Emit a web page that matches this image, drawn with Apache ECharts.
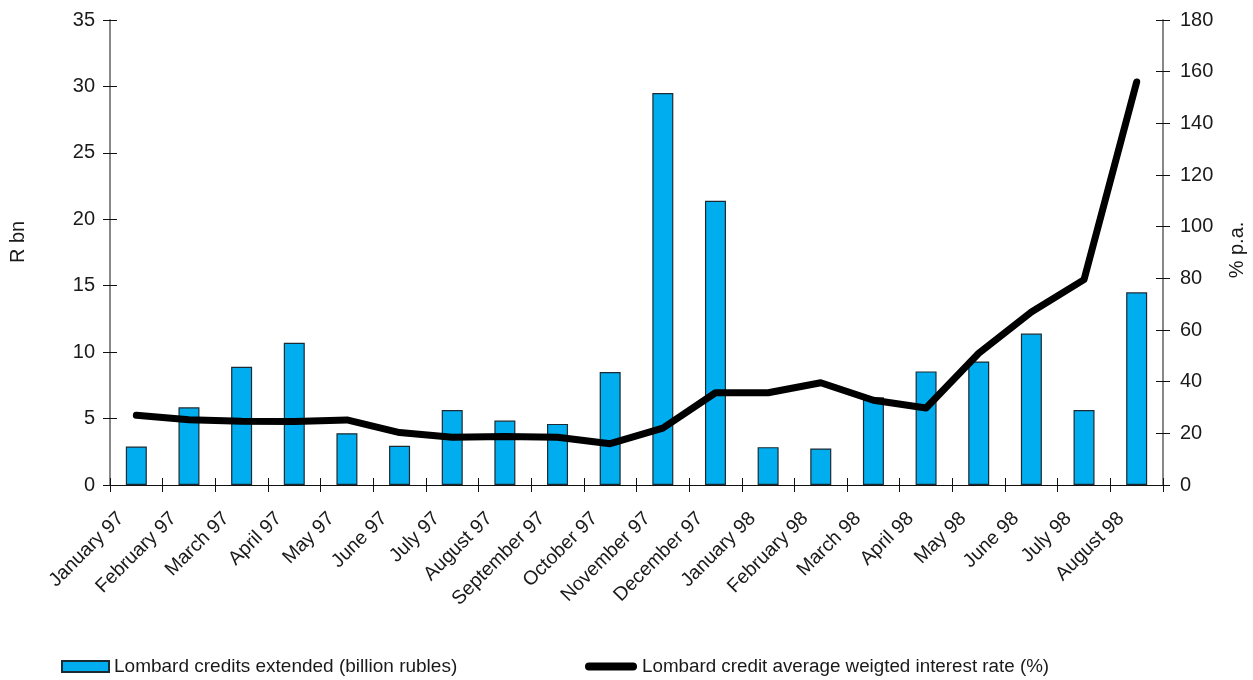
<!DOCTYPE html>
<html>
<head>
<meta charset="utf-8">
<script src="https://cdn.jsdelivr.net/npm/echarts@6/dist/echarts.min.js"></script>
<style>
  html, body { margin: 0; padding: 0; background: #ffffff; }
  #chart { width: 1253px; height: 680px; }
</style>
</head>
<body>
<div id="chart"></div>
<script>
// Monthly categories
const months = ['January 97', 'February 97', 'March 97', 'April 97', 'May 97', 'June 97',
  'July 97', 'August 97', 'September 97', 'October 97', 'November 97', 'December 97',
  'January 98', 'February 98', 'March 98', 'April 98', 'May 98', 'June 98', 'July 98', 'August 98'];

// Lombard credits extended, billion rubles (left axis)
const credits = [2.9, 5.85, 8.9, 10.7, 3.9, 2.95, 5.65, 4.85, 4.6, 8.5,
  29.5, 21.4, 2.85, 2.75, 6.6, 8.55, 9.3, 11.4, 5.65, 14.5];

// Lombard credit average weighted interest rate, % p.a. (right axis)
const rates = [27, 25.3, 24.7, 24.6, 25.2, 20.3, 18.5, 18.8, 18.5, 16,
  22, 35.7, 35.7, 39.6, 32.8, 29.8, 51, 67, 79.5, 156];

// Axis tick settings
const leftAxis = { min: 0, max: 35, interval: 5 };
const rightAxis = { min: 0, max: 180, interval: 20 };

const barName = 'Lombard credits extended (billion rubles)';
const lineName = 'Lombard credit average weigted interest rate (%)';

const FONT = '"Liberation Sans", Arial, Helvetica, sans-serif';
const TXT = '#1a1a1a';

const chart = echarts.init(document.getElementById('chart'), null, { renderer: 'canvas' });

// Ticks cross the axis lines: each axis is paired with a label-less twin whose ticks point inward.
const yBase = (cfg, pos, showLabels, inside, lineColor) => ({
  type: 'value', position: pos, min: cfg.min, max: cfg.max, interval: cfg.interval,
  splitLine: { show: false },
  axisLine: { show: true, lineStyle: { color: lineColor, width: 1.5 } },
  axisTick: { show: true, inside: inside, length: 7, lineStyle: { color: '#111', width: 1 } },
  axisLabel: {
    show: showLabels, margin: pos === 'left' ? 15 : 17,
    color: TXT, fontFamily: FONT, fontSize: 20
  }
});

const xBase = (showLabels, inside) => ({
  type: 'category', data: months, position: 'bottom',
  axisLine: { show: true, lineStyle: { color: '#111', width: 1.2 } },
  axisTick: { show: true, inside: inside, length: 7, lineStyle: { color: '#111', width: 1 } },
  axisLabel: {
    show: showLabels, rotate: 45, margin: 15, interval: 0,
    color: TXT, fontFamily: FONT, fontSize: 19.5, padding: [0, 22, 0, 0]
  }
});

chart.setOption({
  backgroundColor: '#ffffff',
  animation: false,
  grid: { left: 110, right: 90, top: 20, height: 465 },
  xAxis: [xBase(true, false), xBase(false, true)],
  yAxis: [
    yBase(leftAxis, 'left', true, false, '#808080'),
    yBase(rightAxis, 'right', true, false, '#808080'),
    yBase(leftAxis, 'left', false, true, '#808080'),
    yBase(rightAxis, 'right', false, true, '#808080')
  ],
  legend: [
    {
      data: [{ name: barName, icon: 'rect' }],
      left: 61, top: 657, padding: 0, itemWidth: 47, itemHeight: 11,
      textStyle: { color: TXT, fontFamily: FONT, fontSize: 19 }
    },
    {
      data: [{ name: lineName, icon: 'path://M4,0 H48 A4,4 0 0 1 48,8 H4 A4,4 0 0 1 4,0 Z' }],
      left: 585, top: 657, padding: 0, itemWidth: 52, itemHeight: 8,
      itemStyle: { color: '#000' },
      textStyle: { color: TXT, fontFamily: FONT, fontSize: 18.8 }
    }
  ],
  graphic: [
    {
      type: 'text', x: 18, y: 242, rotation: Math.PI / 2,
      style: { text: 'R bn', fill: TXT, font: '20px ' + FONT, textAlign: 'center', textVerticalAlign: 'middle' }
    },
    {
      type: 'text', x: 1237, y: 250, rotation: Math.PI / 2,
      style: { text: '% p.a.', fill: TXT, font: '20px ' + FONT, textAlign: 'center', textVerticalAlign: 'middle' }
    }
  ],
  series: [
    {
      name: barName, type: 'bar', xAxisIndex: 0, yAxisIndex: 0,
      data: credits, barWidth: 21,
      itemStyle: { color: '#00AEEF', borderColor: '#1c2a33', borderWidth: 1.2 },
      z: 2
    },
    {
      name: lineName, type: 'line', xAxisIndex: 0, yAxisIndex: 1,
      data: rates, showSymbol: false, symbol: 'none',
      lineStyle: { color: '#000', width: 7, cap: 'round', join: 'round' },
      itemStyle: { color: '#000' },
      z: 5
    }
  ]
});
</script>
</body>
</html>
